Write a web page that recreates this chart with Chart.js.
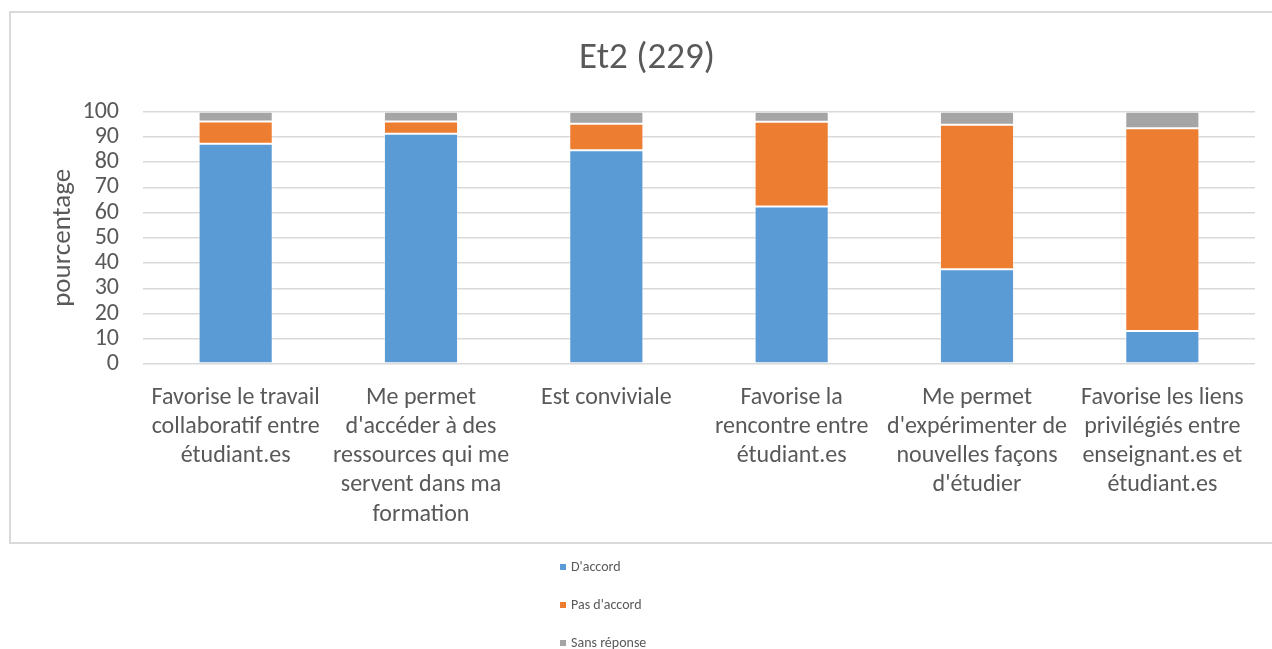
<!DOCTYPE html>
<html lang="fr">
<head>
<meta charset="utf-8">
<title>Et2 (229)</title>
<script src="https://cdn.jsdelivr.net/npm/chart.js@4/dist/chart.umd.min.js"></script>
<style>
  html, body { margin: 0; padding: 0; background: #ffffff; }
  body { width: 1272px; height: 649px; position: relative; overflow: hidden; }
  #frame {
    position: absolute; left: 9px; top: 11px; width: 1290px; height: 529px;
    border: 2px solid #d9d9d9; box-sizing: content-box;
  }
  #wrap { position: absolute; left: 0; top: 0; width: 1272px; height: 649px; }
  #legend {
    position: absolute; left: 560px; top: 558px;
    font-family: Calibri, Carlito, "Open Sans", sans-serif; font-size: 14px; color: #595959;
    filter: blur(0.35px);
  }
  #legend .item { height: 38px; line-height: 18px; white-space: nowrap; }
  #legend .swatch { display: inline-block; width: 6px; height: 6px; margin-right: 5px; vertical-align: 1px; }
</style>
</head>
<body>
<div id="frame"></div>
<div id="wrap"><canvas id="chart" width="1272" height="649"></canvas></div>
<div id="legend"></div>
<script>
// Response categories (x axis), one line per array entry
const categories = [
  ["Favorise le travail", "collaboratif entre", "étudiant.es"],
  ["Me permet", "d'accéder à des", "ressources qui me", "servent dans ma", "formation"],
  ["Est conviviale"],
  ["Favorise la", "rencontre entre", "étudiant.es"],
  ["Me permet", "d'expérimenter de", "nouvelles façons", "d'étudier"],
  ["Favorise les liens", "privilégiés entre", "enseignant.es et", "étudiant.es"]
];

// Share of answers, in percent
const seriesNames = ["D'accord", "Pas d'accord", "Sans réponse"];
const agree      = [87.3, 91.3, 84.7, 62.4, 37.6, 13.1];
const disagree   = [ 8.8,  4.8, 10.5, 33.6, 57.2, 80.3];
const noAnswer   = [ 3.9,  3.9,  4.8,  4.0,  5.2,  6.6];

const chartTitle = "Et2 (229)";
const yAxisTitle = "pourcentage";
const yTicks = [0, 10, 20, 30, 40, 50, 60, 70, 80, 90, 100];

const colors = ["#5B9BD5", "#ED7D31", "#A5A5A5"];
const textColor = "#595959";
const gridColor = "#d9d9d9";
const fontFamily = "Calibri, Carlito, 'Open Sans', sans-serif";

const seriesValues = [agree, disagree, noAnswer];

const datasets = seriesNames.map((name, i) => ({
  label: name,
  data: seriesValues[i],
  backgroundColor: colors[i],
  borderColor: "rgba(255,255,255,0.45)",
  borderWidth: 1,
  borderSkipped: false,
  barPercentage: 0.4,
  categoryPercentage: 1.0
}));

const chart = new Chart(document.getElementById("chart"), {
  type: "bar",
  data: { labels: categories, datasets },
  options: {
    responsive: false,
    animation: false,
    devicePixelRatio: 1,
    // left padding keeps the title centred on the framed area
    layout: { padding: { left: 39, right: 17, top: 0, bottom: 107 } },
    plugins: {
      legend: { display: false },
      tooltip: { enabled: false },
      title: {
        display: true,
        text: chartTitle,
        color: textColor,
        font: { family: fontFamily, size: 37, weight: "normal", lineHeight: 1.2 },
        padding: { top: 37, bottom: 30.3 }
      }
    },
    scales: {
      x: {
        stacked: true,
        grid: { display: false },
        border: { display: false },
        ticks: {
          color: textColor,
          maxRotation: 0,
          autoSkip: false,
          padding: 11,
          font: { family: fontFamily, size: 24, lineHeight: 1.22 }
        },
        afterFit: (scale) => { scale.height = 178; }
      },
      y: {
        stacked: true,
        min: 0,
        max: 100,
        afterBuildTicks: (scale) => { scale.ticks = yTicks.map(v => ({ value: v })); },
        grid: { color: gridColor, lineWidth: 1.5, drawTicks: false },
        border: { display: false },
        ticks: {
          color: textColor,
          padding: 24,
          autoSkip: false,
          stepSize: 10,
          font: { family: fontFamily, size: 24 }
        },
        title: {
          display: true,
          text: yAxisTitle,
          color: textColor,
          padding: { top: 8, bottom: 0 },
          font: { family: fontFamily, size: 27, lineHeight: 1.2 }
        },
        afterFit: (scale) => { scale.width = 104; }
      }
    }
  }
});

// Vertical legend under the frame, built from the chart's own datasets
const legendEl = document.getElementById("legend");
chart.data.datasets.forEach(ds => {
  const item = document.createElement("div");
  item.className = "item";
  const sw = document.createElement("span");
  sw.className = "swatch";
  sw.style.background = ds.backgroundColor;
  item.appendChild(sw);
  item.appendChild(document.createTextNode(ds.label));
  legendEl.appendChild(item);
});
</script>
</body>
</html>
